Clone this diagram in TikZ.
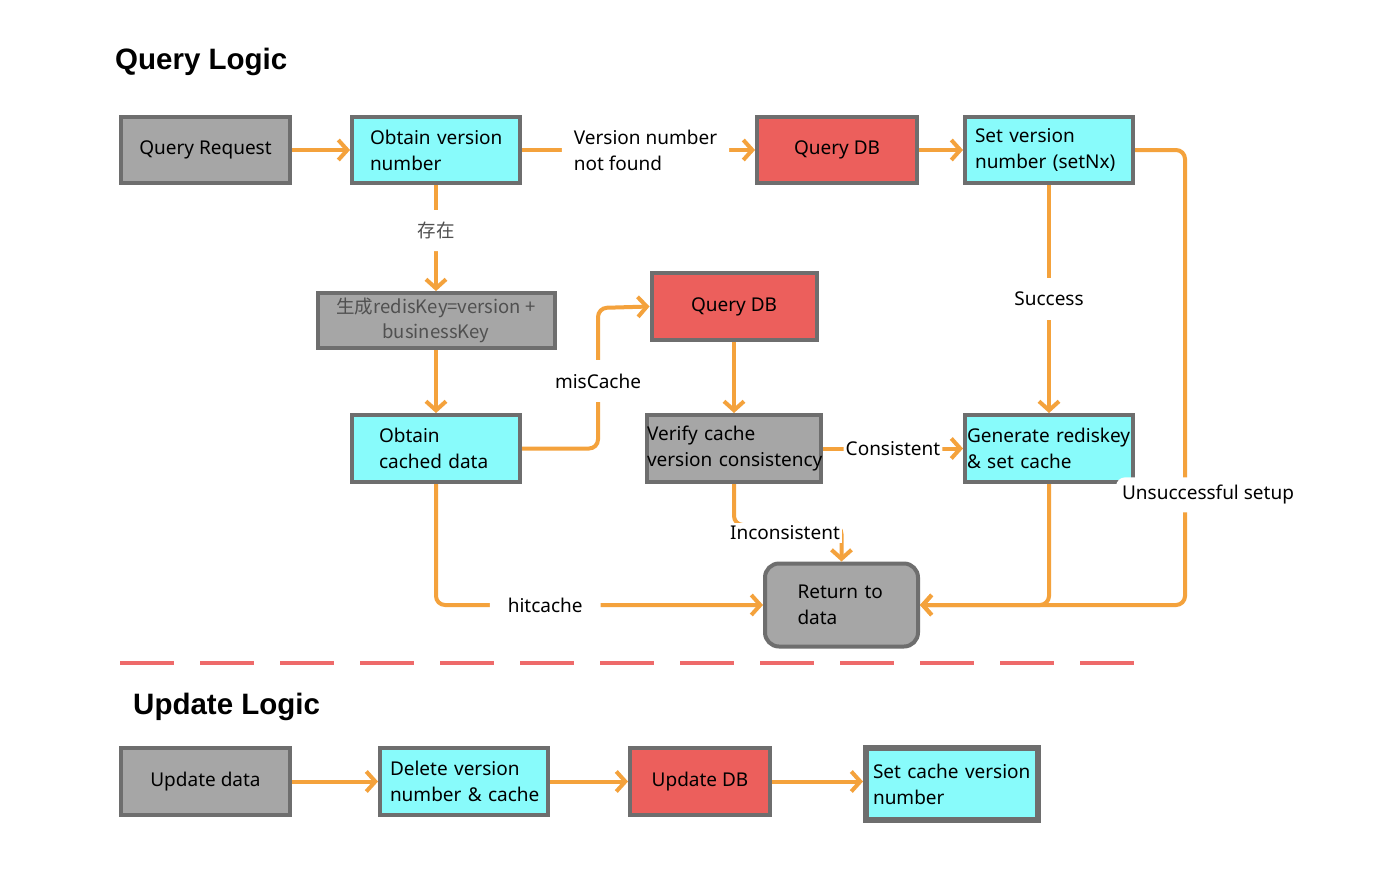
\documentclass[tikz,border=0pt]{standalone}
\usepackage{fontspec}
\setmainfont{Noto Sans}
\newfontfamily\cjk{Noto Sans CJK SC}
\newfontfamily\titlefont{Liberation Sans}
\usetikzlibrary{arrows.meta,calc}
\definecolor{boxgray}{HTML}{A6A6A6}
\definecolor{bordergray}{HTML}{6E6E6E}
\definecolor{boxcyan}{HTML}{88FBFB}
\definecolor{boxred}{HTML}{EC5F5C}
\definecolor{arrorange}{HTML}{F4A23C}
\definecolor{dashred}{HTML}{EE6A6A}
\definecolor{keytext}{HTML}{505050}
\newcommand{\oneline}[1]{\mbox{#1}}
\begin{document}
\begin{tikzpicture}[x=1pt,y=-1pt,
  every node/.style={font=\fontsize{19}{26}\selectfont, inner sep=0pt},
  basebox/.style={draw=bordergray, line width=4pt, minimum width=168pt, minimum height=66pt},
  graybox/.style={basebox, fill=boxgray},
  cyanbox/.style={basebox, fill=boxcyan},
  redbox/.style={basebox, fill=boxred},
  arr/.style={draw=arrorange, line width=4pt, rounded corners=9pt,
    -{Straight Barb[length=9pt,width=20pt,line width=4pt]}},
  lbl/.style={fill=white, inner xsep=6pt, inner ysep=10pt},
  title/.style={font=\titlefont\bfseries\fontsize{29.5}{34}\selectfont, anchor=west}
]
\useasboundingbox[fill=white] (0,0) rectangle (1400,868);

% titles
\node[title] (t1) at (115,62) {Query Logic};
\node[title] (t2) at (133,707) {Update Logic};

% query row 1
\node[graybox, minimum width=169pt] (qr) at (205.5,150) {Query Request};
\node[cyanbox, text width=132pt, align=left] (ov) at (436,150) {\oneline{Obtain version}\\\oneline{number}};
\node[redbox, minimum width=160pt] (qdb1) at (837,150) {Query DB};
\node[cyanbox, text width=148pt, align=left] (sv) at (1049,150) {\oneline{Set version}\\\oneline{number (setNx)}};

% query middle
\node[graybox, minimum width=237pt, minimum height=55pt, align=center, text=keytext,
  font=\cjk\fontsize{18.5}{25}\selectfont] (rk) at (436,320.5) {生成redisKey=version +\\businessKey};
\node[cyanbox, minimum height=67pt, text width=114pt, align=left] (oc) at (436,448.5) {\oneline{Obtain}\\\oneline{cached data}};
\node[redbox, minimum width=165pt, minimum height=67pt] (qdb2) at (734,306.5) {Query DB};
\node[graybox, minimum height=67pt, text width=174pt, align=left] (vc) at (734,448.5) {\oneline{Verify cache}\\\oneline{version consistency}};
\node[cyanbox, minimum height=67pt, text width=164pt, align=left] (gr) at (1049,448.5) {\oneline{Generate rediskey}\\\oneline{\& set cache}};
\node[graybox, rounded corners=14pt, minimum width=153pt, minimum height=83pt, text width=88pt, align=left] (ret) at (841.5,605) {\oneline{Return to}\\\oneline{data}};

\coordinate (c1) at (1185,605);
\coordinate (m1) at (598,308);
\coordinate (inc) at (734,525);

% connectors
\draw[arr] (qr) -- (ov);
\draw[arr] (ov.east) -- node[lbl, pos=0.53, inner xsep=12pt, align=left] (l1) {Version number\\not found} (qdb1.west);
\draw[arr] (qdb1) -- (sv);
\draw[arr] (sv.east) -| node[lbl, pos=0.879, xshift=23pt, inner ysep=8pt] (l2) {Unsuccessful setup} (c1) -- (ret.east);
\draw[arr] (sv.south) -- node[lbl, pos=0.5, inner ysep=14pt] (l3) {Success} (gr.north);
\draw[arr] (ov.south) -- node[lbl, pos=0.43, font=\cjk\fontsize{18.5}{25}\selectfont, text=keytext, inner ysep=12pt] (l4) {存在} (rk.north);
\draw[arr] (rk) -- (oc);
\draw[arr] (oc.east) -| (m1) -- (qdb2.west);
\node[lbl, inner ysep=14pt] (l5) at (598,381) {misCache};
\draw[arr] (qdb2) -- (vc);
\draw[arr] (vc.east) -- node[lbl, pos=0.5, inner xsep=2pt, inner ysep=6pt] (l6) {Consistent} (gr.west);
\draw[arr] (gr.south) |- (ret.east);
\draw[arr] (vc.south) -- (inc) -| (ret.north);
\node[lbl, inner xsep=2pt, inner ysep=3pt] (l7) at (785,533) {Inconsistent};
\draw[arr] (oc.south) |- node[lbl, pos=0.667, inner xsep=18pt, inner ysep=12pt] (l8) {hitcache} (ret.west);

% separator
\draw[dashred, line width=3.5pt, dash pattern=on 54pt off 26pt] (120,663) -- (1135,663);

% update row
\node[graybox, minimum width=169pt, minimum height=67pt] (ud) at (205.5,781.5) {Update data};
\node[cyanbox, minimum height=67pt, text width=148pt, align=left] (dv) at (464,781.5) {\oneline{Delete version}\\\oneline{number \& cache}};
\node[redbox, minimum width=140pt, minimum height=67pt] (udb) at (700,781.5) {Update DB};
\node[cyanbox, line width=6pt, minimum width=172pt, minimum height=72pt, text width=158pt, align=left] (scv) at (952,784) {\oneline{Set cache version}\\\oneline{number}};
\draw[arr] (ud) -- (dv);
\draw[arr] (dv) -- (udb);
\draw[arr] (udb.east) -- (udb.east -| scv.west);
\end{tikzpicture}
\end{document}
